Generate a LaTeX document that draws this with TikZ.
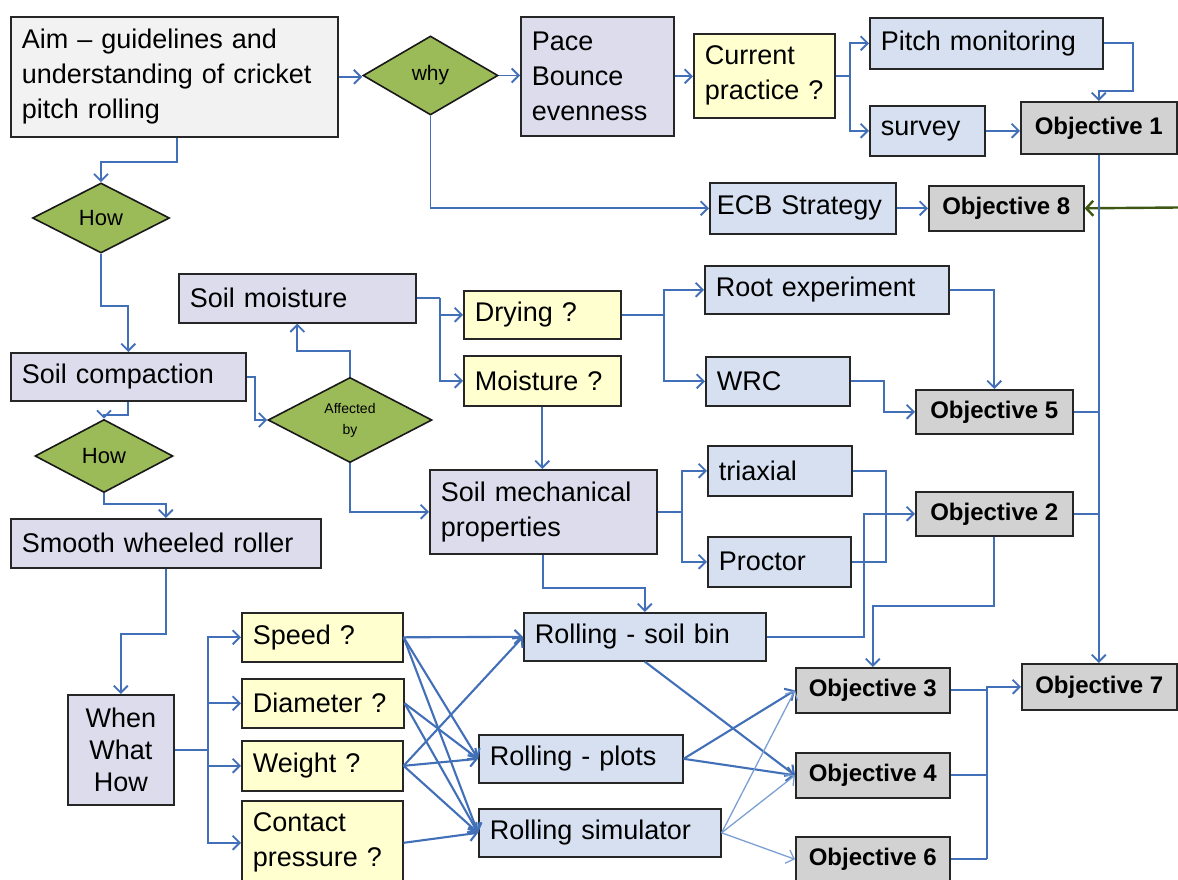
\documentclass[tikz,border=0pt]{standalone}
\usepackage{fontspec}
\setmainfont{Liberation Sans}
\usetikzlibrary{arrows.meta,shapes.geometric,calc}
\definecolor{lav}{RGB}{221,220,236}
\definecolor{lblue}{RGB}{214,224,240}
\definecolor{lyel}{RGB}{255,255,208}
\definecolor{ogray}{RGB}{210,210,210}
\definecolor{aimgray}{RGB}{242,242,242}
\definecolor{dgreen}{RGB}{155,187,89}
\definecolor{lineblue}{RGB}{66,112,184}
\definecolor{lightline}{RGB}{125,160,212}
\definecolor{darkolive}{RGB}{62,88,20}
\begin{document}
\begin{tikzpicture}[x=1pt,y=-1pt,
  bx/.style 2 args={draw=black!85, line width=1.6pt, anchor=north west,
    inner xsep=11pt, inner ysep=0pt, align=left,
    minimum width=#1pt, minimum height=#2pt,
    /utils/exec={\pgfmathsetlengthmacro\twid{#1pt-22pt}}, text width=\twid,
    font=\fontsize{27}{35}\selectfont},
  obj/.style 2 args={draw=black!85, line width=1.6pt, anchor=north west, fill=ogray,
    inner sep=0pt, minimum width=#1pt, minimum height=#2pt,
    font=\bfseries\fontsize{24}{28}\selectfont},
  dia/.style 2 args={diamond, draw=black!90, line width=1.6pt, fill=dgreen,
    inner sep=0pt, minimum width=#1pt, minimum height=#2pt, align=center},
  ln/.style={draw=lineblue, line width=1.9pt},
  arr/.style={ln, -{Straight Barb[length=7pt,width=14pt]}},
  xarr/.style={draw=lineblue, line width=2.1pt, -{Straight Barb[length=7pt,width=14pt]}},
  larr/.style={draw=lightline, line width=1.3pt, -{Straight Barb[length=7pt,width=14pt]}},
  garr/.style={draw=darkolive, line width=2.4pt, -{Straight Barb[length=7pt,width=15pt]}}
]
\useasboundingbox (0,0) rectangle (1178,879);
\fill[white] (0,0) rectangle (1178,879);
\clip (0,0) rectangle (1178,879);

% ---- nodes ----
\node[bx={327}{120}, fill=aimgray] (aim) at (10,16) {Aim – guidelines and\\understanding of cricket\\pitch rolling};
\node[dia={135}{79}, font=\fontsize{21}{24}\selectfont] (why) at (430.5,75.5) {why};
\node[bx={153}{119}, fill=lav] (pace) at (520,16) {Pace\\Bounce\\evenness};
\node[bx={141}{84}, fill=lyel] (cur) at (693,33) {Current\\practice ?};
\node[bx={233}{51}, fill=lblue] (pitch) at (869,17) {Pitch monitoring};
\node[bx={115}{50}, fill=lblue] (survey) at (869,105) {survey};
\node[obj={156}{52}] (obj1) at (1020,101) {Objective 1};
\node[bx={186}{51}, fill=lblue, inner xsep=7pt, text width=172pt] (ecb) at (709,182) {ECB Strategy};
\node[obj={155}{45}] (obj8) at (928,185) {Objective 8};

\node[dia={137}{70}, font=\fontsize{22}{24}\selectfont] (how1) at (101,218) {How};
\node[bx={237}{49}, fill=lav] (smoist) at (178,273) {Soil moisture};
\node[bx={157}{48}, fill=lyel] (drying) at (463,290) {Drying ?};
\node[bx={157}{50}, fill=lyel] (moist) at (463,355) {Moisture ?};
\node[bx={244}{48}, fill=lblue] (root) at (704,265) {Root experiment};
\node[bx={144}{49}, fill=lblue] (wrc) at (705,356) {WRC};
\node[obj={157}{44}] (obj5) at (915,389) {Objective 5};

\node[bx={235}{48}, fill=lav] (scomp) at (10,352) {Soil compaction};
\node[dia={164}{84}, font=\fontsize{14}{21}\selectfont] (aff) at (350,420) {Affected\\by};
\node[dia={138}{73}, font=\fontsize{22}{24}\selectfont] (how2) at (104,456) {How};
\node[bx={310}{49}, fill=lav] (swr) at (10,518) {Smooth wheeled roller};
\node[bx={227}{84}, fill=lav] (smp) at (429,469) {Soil mechanical\\properties};
\node[bx={144}{50}, fill=lblue] (tri) at (707,445) {triaxial};
\node[bx={143}{50}, fill=lblue] (proc) at (707,536) {Proctor};
\node[obj={157}{44}] (obj2) at (915,491) {Objective 2};

\node[bx={242}{48}, fill=lblue] (rsb) at (523,612) {Rolling - soil bin};
\node[obj={154}{45}] (obj3) at (795,667) {Objective 3};
\node[obj={155}{46}] (obj7) at (1021,663) {Objective 7};
\node[bx={106}{110}, fill=lav, align=center, inner xsep=4pt, text width=98pt,
      font=\fontsize{27}{32}\selectfont] (www) at (67,694) {When\\What\\How};
\node[bx={161}{49}, fill=lyel] (speed) at (241,612) {Speed ?};
\node[bx={162}{49}, fill=lyel] (diam) at (241,678) {Diameter ?};
\node[bx={161}{50}, fill=lyel] (weight) at (241,740) {Weight ?};
\node[bx={161}{84}, fill=lyel] (contact) at (241,800) {Contact\\pressure ?};
\node[bx={204}{48}, fill=lblue] (rplots) at (478,734) {Rolling - plots};
\node[bx={242}{48}, fill=lblue] (rsim) at (478,808) {Rolling simulator};
\node[obj={154}{45}] (obj4) at (795,752) {Objective 4};
\node[obj={154}{45}] (obj6) at (795,836) {Objective 6};

% ---- connectors ----
\draw[arr] (aim.east) -- (aim.east -| why.west);
\draw[arr] (why.east) -- (why.east -| pace.west);
\draw[arr] (pace.east) -- (pace.east -| cur.west);
\draw[ln] (cur.east) -- ++(14,0) coordinate (j1);
\draw[arr] (j1) |- (pitch.west);
\draw[arr] (j1) |- (survey.west);
\draw[arr] (survey.east) -- (survey.east -| obj1.west);
\draw[arr] (pitch.east) -| ++(29,48) -| (obj1.north);
\draw[arr] (why.south) |- (ecb.west);
\draw[arr] (ecb.east) -- (ecb.east -| obj8.west);
\coordinate (gsrc) at (1178,207.5);
\draw[garr] (gsrc) -- (obj8.east);

\draw[arr] (obj1.south) -- (obj1.south |- obj7.north);
\draw[ln] (obj5.east) -- (obj5.east -| obj1.south);
\draw[ln] (obj2.east) -- (obj2.east -| obj1.south);

\draw[arr] ([xshift=2.5pt]aim.south) -- ++(0,24) -| (how1.north);
\draw[arr] (how1.south) -- ++(0,52) -| (scomp.north);
\draw[arr] (scomp.south) -- ++(0,13) -| (how2.north);
\draw[arr] (how2.south) -- ++(0,11) -| (swr.north);
\draw[arr] (scomp.east) -- ++(8,0) |- (aff.west);
\draw[arr] (aff.north) -- ++(0,-26) -| (smoist.south);
\draw[arr] (aff.south) |- (smp.west);
\draw[ln] (smoist.east) -- ++(23,0) coordinate (j2);
\draw[arr] (j2) |- (drying.west);
\draw[arr] (j2) |- (moist.west);
\draw[arr] (moist.south) -- (moist.south |- smp.north);
\draw[ln] (drying.east) -- ++(42,0) coordinate (j3);
\draw[arr] (j3) |- (root.west);
\draw[arr] (j3) |- (wrc.west);
\draw[arr] (root.east) -| (obj5.north);
\draw[arr] (wrc.east) -- ++(33,0) |- (obj5.west);
\draw[ln] (smp.east) -- ++(24,0) coordinate (j4);
\draw[arr] (j4) |- (tri.west);
\draw[arr] (j4) |- (proc.west);
\draw[ln] (tri.east) -- ++(33,0) |- (proc.east);
\draw[arr] (rsb.east) -- ++(97,0) |- (obj2.west);
\draw[arr] (obj2.south) -- ++(0,69) -| (obj3.north);
\draw[arr] (smp.south) -- ++(0,33) -| (rsb.north);
\draw[arr] (swr.south) -- ++(0,65) -| (www.north);
\draw[ln] (www.east) -- ++(33,0) coordinate (j5);
\draw[arr] (j5) |- (speed.west);
\draw[arr] (j5) |- (diam.west);
\draw[arr] (j5) |- (weight.west);
\draw[arr] (j5) |- (contact.west);

\draw[xarr] (speed.east) -- (rsb.west);
\draw[xarr] (speed.east) -- (rplots.west);
\draw[xarr] (speed.east) -- (rsim.west);
\draw[xarr] (diam.east) -- (rplots.west);
\draw[xarr] (diam.east) -- (rsim.west);
\draw[xarr] (weight.east) -- (rsb.west);
\draw[xarr] (weight.east) -- (rplots.west);
\draw[xarr] (weight.east) -- (rsim.west);
\draw[xarr] (contact.east) -- (rsim.west);

\draw[xarr] (rsb.south) -- (obj4.west);
\draw[xarr] (rplots.east) -- (obj3.west);
\draw[xarr] (rplots.east) -- (obj4.west);
\draw[larr] (rsim.east) -- (obj3.west);
\draw[larr] (rsim.east) -- (obj4.west);
\draw[larr] (rsim.east) -- (obj6.west);

\draw[ln] (obj6.east) -- ++(36,0) coordinate (j6);
\draw[arr] (j6) |- (obj7.west);
\draw[ln] (obj4.east) -- (obj4.east -| j6);
\draw[ln] (obj3.east) -- (obj3.east -| j6);
\end{tikzpicture}
\end{document}
